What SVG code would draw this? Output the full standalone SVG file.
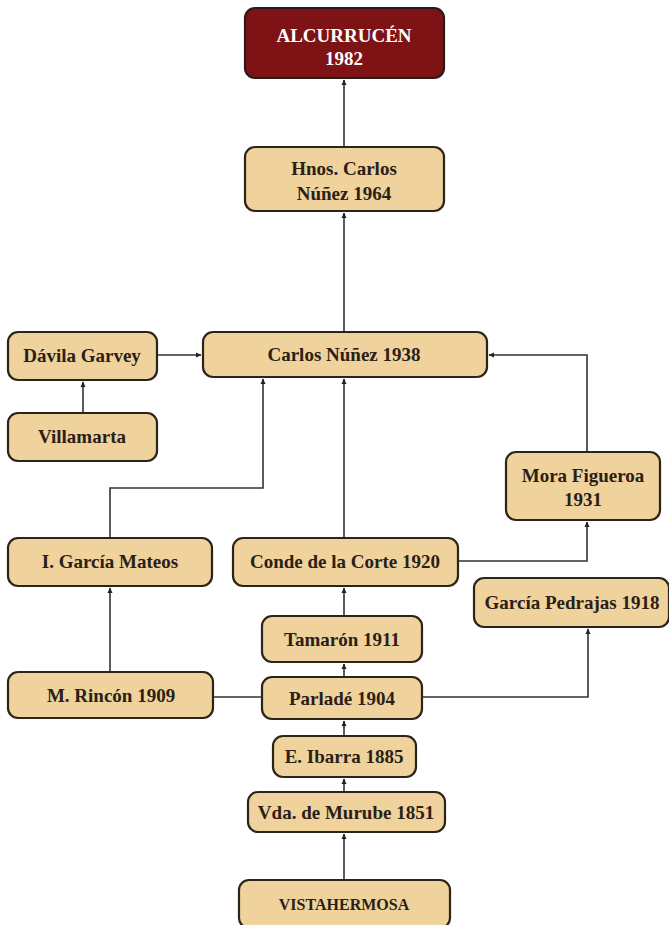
<svg xmlns="http://www.w3.org/2000/svg" width="669" height="925" viewBox="0 0 669 925">
<style>
.box{fill:#efd29c;stroke:#2b2419;stroke-width:2.2}
.red{fill:#7e1315;stroke:#2b1a1a;stroke-width:2.2}
.t{font-family:'Liberation Serif','DejaVu Serif',serif;font-weight:bold;font-size:19px;fill:#2a2016;text-anchor:middle}
.tw{fill:#ffffff}
.c{fill:none;stroke:#333333;stroke-width:1.6}
.ca{fill:none;stroke:#333333;stroke-width:1.6;marker-end:url(#ah)}
</style>
<defs>
<marker id="ah" markerWidth="6" markerHeight="6" refX="5" refY="3" orient="auto" markerUnits="userSpaceOnUse">
<path d="M0,0.5 L5.5,3 L0,5.5 Z" fill="#222222"/>
</marker>
</defs>
<rect width="669" height="925" fill="#ffffff"/>
<g id="connectors">
<path class="ca" d="M344,147 L344,80"/>
<path class="ca" d="M344,332 L344,213"/>
<path class="ca" d="M157,355 L201,355"/>
<path class="ca" d="M83,413 L83,382"/>
<path class="ca" d="M587,452 L587,355 L489,355"/>
<path class="ca" d="M110,538 L110,488 L263,488 L263,379"/>
<path class="ca" d="M344,538 L344,379"/>
<path class="ca" d="M458,561 L587,561 L587,522"/>
<path class="ca" d="M344,616 L344,588"/>
<path class="ca" d="M344,677 L344,664"/>
<path class="ca" d="M422,697 L588,697 L588,629"/>
<path class="c" d="M213,697 L262,697"/>
<path class="ca" d="M110,672 L110,588"/>
<path class="ca" d="M344,736 L344,721"/>
<path class="ca" d="M344,792 L344,779"/>
<path class="ca" d="M344,880 L344,834"/>
</g>
<g id="alcurrucen"><rect class="red" x="245" y="8" width="199" height="70" rx="10"/><text class="t tw" x="344" y="42">ALCURRUCÉN</text><text class="t tw" x="344" y="65">1982</text></g>
<g id="hnos"><rect class="box" x="245" y="147" width="199" height="64" rx="10"/><text class="t" x="344" y="175">Hnos. Carlos</text><text class="t" x="344" y="200">Núñez 1964</text></g>
<g id="carlos1938"><rect class="box" x="203" y="332" width="284" height="45" rx="10"/><text class="t" x="344" y="361">Carlos Núñez 1938</text></g>
<g id="davila"><rect class="box" x="8" y="332" width="149" height="48" rx="10"/><text class="t" x="82" y="362">Dávila Garvey</text></g>
<g id="villamarta"><rect class="box" x="8" y="413" width="149" height="48" rx="10"/><text class="t" x="82" y="443">Villamarta</text></g>
<g id="mora"><rect class="box" x="506" y="452" width="154" height="68" rx="10"/><text class="t" x="583" y="482">Mora Figueroa</text><text class="t" x="583" y="506">1931</text></g>
<g id="mateos"><rect class="box" x="8" y="538" width="204" height="48" rx="10"/><text class="t" x="110" y="568">I. García Mateos</text></g>
<g id="conde"><rect class="box" x="233" y="538" width="225" height="48" rx="10"/><text class="t" x="345" y="568">Conde de la Corte 1920</text></g>
<g id="pedrajas"><rect class="box" x="474" y="578" width="195" height="49" rx="10"/><text class="t" x="572" y="609">García Pedrajas 1918</text></g>
<g id="tamaron"><rect class="box" x="262" y="616" width="160" height="46" rx="10"/><text class="t" x="342" y="646">Tamarón 1911</text></g>
<g id="rincon"><rect class="box" x="8" y="672" width="205" height="46" rx="10"/><text class="t" x="111" y="702">M. Rincón 1909</text></g>
<g id="parlade"><rect class="box" x="262" y="677" width="160" height="42" rx="10"/><text class="t" x="342" y="705">Parladé 1904</text></g>
<g id="ibarra"><rect class="box" x="273" y="736" width="143" height="41" rx="10"/><text class="t" x="344" y="763">E. Ibarra 1885</text></g>
<g id="murube"><rect class="box" x="248" y="792" width="197" height="40" rx="10"/><text class="t" x="346" y="819">Vda. de Murube 1851</text></g>
<g id="vistahermosa"><rect class="box" x="239" y="880" width="211" height="48" rx="10"/><text class="t" x="344" y="910" style="font-size:16px">VISTAHERMOSA</text></g>
</svg>
